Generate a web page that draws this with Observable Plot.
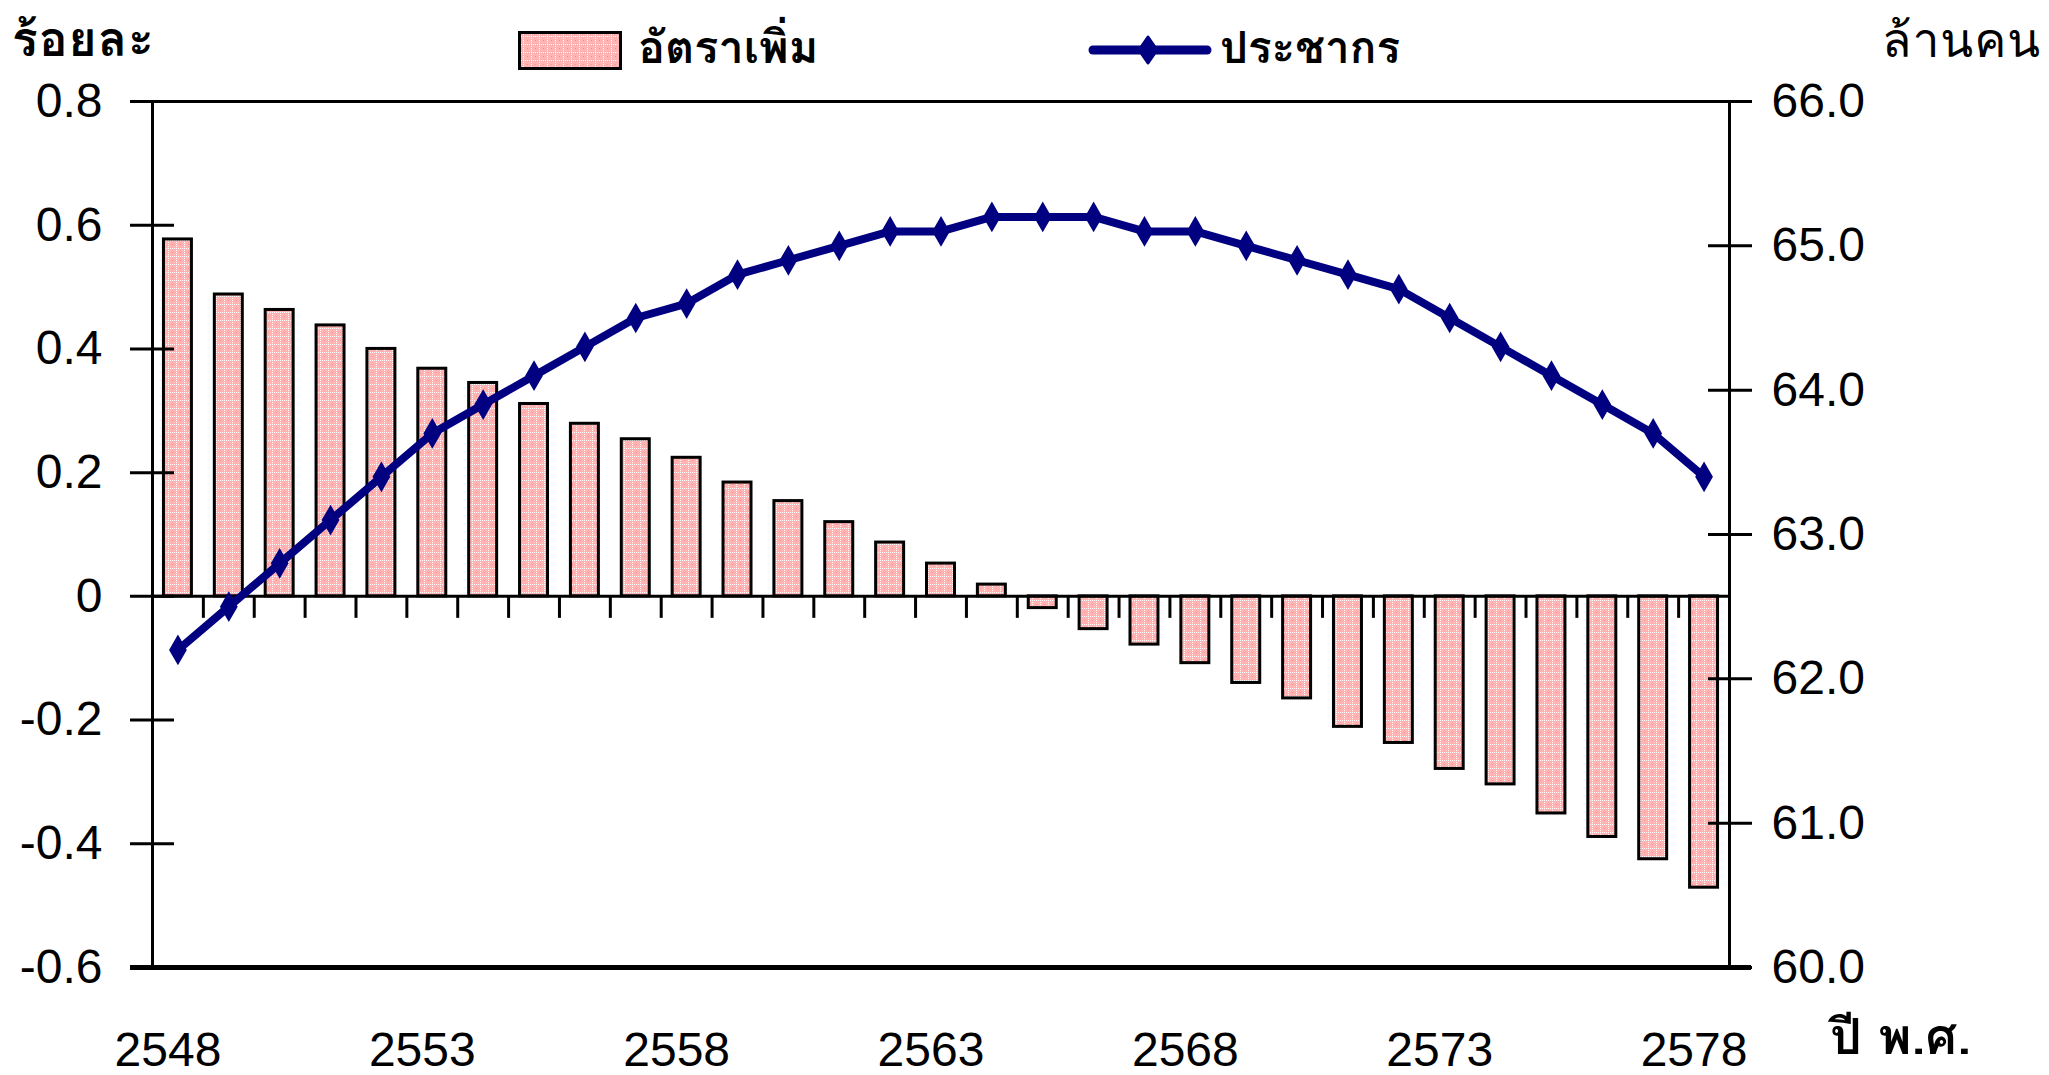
<!DOCTYPE html>
<html>
<head>
<meta charset="utf-8">
<script src="https://cdn.jsdelivr.net/npm/d3@7"></script>
<script src="https://cdn.jsdelivr.net/npm/@observablehq/plot@0.6"></script>
<style>
  html, body { margin: 0; padding: 0; background: #fff; }
  #chart { position: relative; width: 2049px; height: 1075px; overflow: hidden; }
  #chart svg.plot { position: absolute; left: 0; top: 0; }
  .lbl {
    position: absolute; white-space: nowrap; line-height: 1; color: #000;
    font-family: Tahoma, Loma, Garuda, Waree, "Noto Sans Thai Looped", "Noto Sans Thai", "Noto Sans", sans-serif;
  }
  .key { position: absolute; }
</style>
</head>
<body>
<div id="chart">
  <div class="lbl" id="unit-left" style="left:12px; top:15px; font-size:48px; font-weight:bold; letter-spacing:1px;">ร้อยละ</div>
  <div class="lbl" id="unit-right" style="left:1882px; top:16px; font-size:48px; letter-spacing:1px;">ล้านคน</div>
  <div class="lbl" id="unit-x" style="left:1830px; top:1012px; font-size:50px; font-weight:bold;">ปี พ.ศ.</div>

  <svg class="key" style="left:515px; top:28px;" width="110" height="45">
    <defs>
      <pattern id="pinkGridKey" width="8" height="8" patternUnits="userSpaceOnUse">
        <rect width="8" height="8" fill="#ffb3b3"/>
        <rect x="0" y="0" width="1" height="1" fill="#fff"/><rect x="2" y="0" width="1" height="1" fill="#fff"/>
        <rect x="4" y="0" width="1" height="1" fill="#fff"/><rect x="6" y="0" width="1" height="1" fill="#fff"/>
        <rect x="0" y="2" width="1" height="1" fill="#fff"/><rect x="0" y="4" width="1" height="1" fill="#fff"/>
        <rect x="0" y="6" width="1" height="1" fill="#fff"/><rect x="4" y="4" width="1" height="1" fill="#ff8c8c"/>
      </pattern>
    </defs>
    <rect x="4.5" y="4.5" width="101" height="36" fill="url(#pinkGridKey)" stroke="#000" stroke-width="3"/>
  </svg>
  <div class="lbl" style="left:638px; top:25px; font-size:45px; font-weight:bold;">อัตราเพิ่ม</div>

  <svg class="key" style="left:1085px; top:30px;" width="130" height="42">
    <line x1="8" y1="20" x2="122" y2="20" stroke="#000080" stroke-width="9" stroke-linecap="round"/>
    <path d="M63,7 L72,20 L63,33 L54,20 Z" fill="#000080" stroke="#000080" stroke-width="3" stroke-linejoin="round"/>
  </svg>
  <div class="lbl" style="left:1220px; top:25px; font-size:44px; font-weight:bold;">ประชากร</div>
</div>

<script>
// Thai population projection, B.E. 2548–2578
const years = [2548, 2549, 2550, 2551, 2552, 2553, 2554, 2555, 2556, 2557, 2558,
  2559, 2560, 2561, 2562, 2563, 2564, 2565, 2566, 2567, 2568,
  2569, 2570, 2571, 2572, 2573, 2574, 2575, 2576, 2577, 2578];

// annual growth rate, percent (left axis)
const growthRate = [0.577, 0.488, 0.463, 0.438, 0.400, 0.368, 0.345, 0.311, 0.279, 0.254, 0.224,
  0.184, 0.154, 0.120, 0.087, 0.053, 0.019, -0.019, -0.053, -0.078, -0.108,
  -0.140, -0.165, -0.211, -0.237, -0.279, -0.304, -0.351, -0.389, -0.425, -0.471];

// population, millions (right axis)
const population = [62.2, 62.5, 62.8, 63.1, 63.4, 63.7, 63.9, 64.1, 64.3, 64.5, 64.6,
  64.8, 64.9, 65.0, 65.1, 65.1, 65.2, 65.2, 65.2, 65.1, 65.1,
  65.0, 64.9, 64.8, 64.7, 64.5, 64.3, 64.1, 63.9, 63.7, 63.4];

const rateTicks = [-0.6, -0.4, -0.2, 0, 0.2, 0.4, 0.6, 0.8];
const popTicks = [60, 61, 62, 63, 64, 65, 66];
const yearTicks = [2548, 2553, 2558, 2563, 2568, 2573, 2578];

const rows = years.map((year, i) => ({year, rate: growthRate[i], pop: population[i]}));

// the population axis is laid over the rate scale
const rateDomain = [-0.6, 0.8];
const popDomain = [60, 66];
const toRate = (p) => rateDomain[0] + (p - popDomain[0]) / (popDomain[1] - popDomain[0]) * (rateDomain[1] - rateDomain[0]);
const fromRate = (r) => popDomain[0] + (r - rateDomain[0]) / (rateDomain[1] - rateDomain[0]) * (popDomain[1] - popDomain[0]);

const W = 2049, H = 1075;
const margin = {top: 101, right: 320, bottom: 108, left: 152};
const plotW = W - margin.left - margin.right;
const plotH = H - margin.top - margin.bottom;
const step = plotW / years.length;
const tickLen = 22 * (rateDomain[1] - rateDomain[0]) / plotH;

const numFont = "'Liberation Sans', Arial, sans-serif";
const navy = "#000080";

const plot = Plot.plot({
  width: W,
  height: H,
  marginTop: margin.top,
  marginRight: margin.right,
  marginBottom: margin.bottom,
  marginLeft: margin.left,
  style: {background: "transparent", fontFamily: numFont, color: "#000"},
  x: {type: "band", domain: years, paddingInner: 0.45, paddingOuter: 0.225, round: false, axis: null},
  y: {domain: rateDomain, axis: null},
  marks: [
    Plot.barY(rows, {x: "year", y: "rate", fill: "url(#pinkGrid)", stroke: "#000", strokeWidth: 3}),
    Plot.ruleY([0], {stroke: "#000", strokeWidth: 3}),
    Plot.ruleX(years.slice(1), {x: (d) => d, y1: 0, y2: -tickLen, dx: -step / 2, stroke: "#000", strokeWidth: 3}),
    Plot.frame({stroke: "#000", strokeWidth: 3}),
    Plot.ruleY([rateDomain[0]], {stroke: "#000", strokeWidth: 5, insetLeft: -22, insetRight: -22}),
    // left axis: ticks crossing the axis line, then labels
    Plot.axisY(rateTicks, {anchor: "left", label: null, tickSize: 44, dx: 22, tickFormat: () => "", stroke: "#000", strokeWidth: 3}),
    Plot.axisY(rateTicks, {anchor: "left", label: null, tickSize: 0, tickPadding: 50, fontSize: 48, fontFamily: numFont,
      tickFormat: (d) => (d === 0 ? "0" : d.toFixed(1))}),
    // right axis (population)
    Plot.axisY(popTicks.map(toRate), {anchor: "right", label: null, tickSize: 44, dx: -22, tickFormat: () => "", stroke: "#000", strokeWidth: 3}),
    Plot.axisY(popTicks.map(toRate), {anchor: "right", label: null, tickSize: 0, tickPadding: 42, fontSize: 48, fontFamily: numFont,
      tickFormat: (d) => fromRate(d).toFixed(1)}),
    // x axis labels
    Plot.axisX(yearTicks, {anchor: "bottom", label: null, tickSize: 0, tickPadding: 64, dx: -10, fontSize: 48, fontFamily: numFont,
      tickFormat: (d) => String(d)}),
    // population line
    Plot.line(rows, {x: "year", y: (d) => toRate(d.pop), stroke: navy, strokeWidth: 8, strokeLinejoin: "round"}),
    Plot.dot(rows, {x: "year", y: (d) => toRate(d.pop), symbol: "diamond", r: 7.5, fill: navy, stroke: navy, strokeWidth: 3})
  ]
});

// fill pattern for the bars
d3.select(plot).insert("defs", ":first-child").html(`
  <pattern id="pinkGrid" width="8" height="8" patternUnits="userSpaceOnUse">
    <rect width="8" height="8" fill="#ffb3b3"/>
    <rect x="0" y="0" width="1" height="1" fill="#fff"/><rect x="2" y="0" width="1" height="1" fill="#fff"/>
    <rect x="4" y="0" width="1" height="1" fill="#fff"/><rect x="6" y="0" width="1" height="1" fill="#fff"/>
    <rect x="0" y="2" width="1" height="1" fill="#fff"/><rect x="0" y="4" width="1" height="1" fill="#fff"/>
    <rect x="0" y="6" width="1" height="1" fill="#fff"/><rect x="4" y="4" width="1" height="1" fill="#ff8c8c"/>
  </pattern>`);

document.getElementById("chart").prepend(plot);
</script>
</body>
</html>
